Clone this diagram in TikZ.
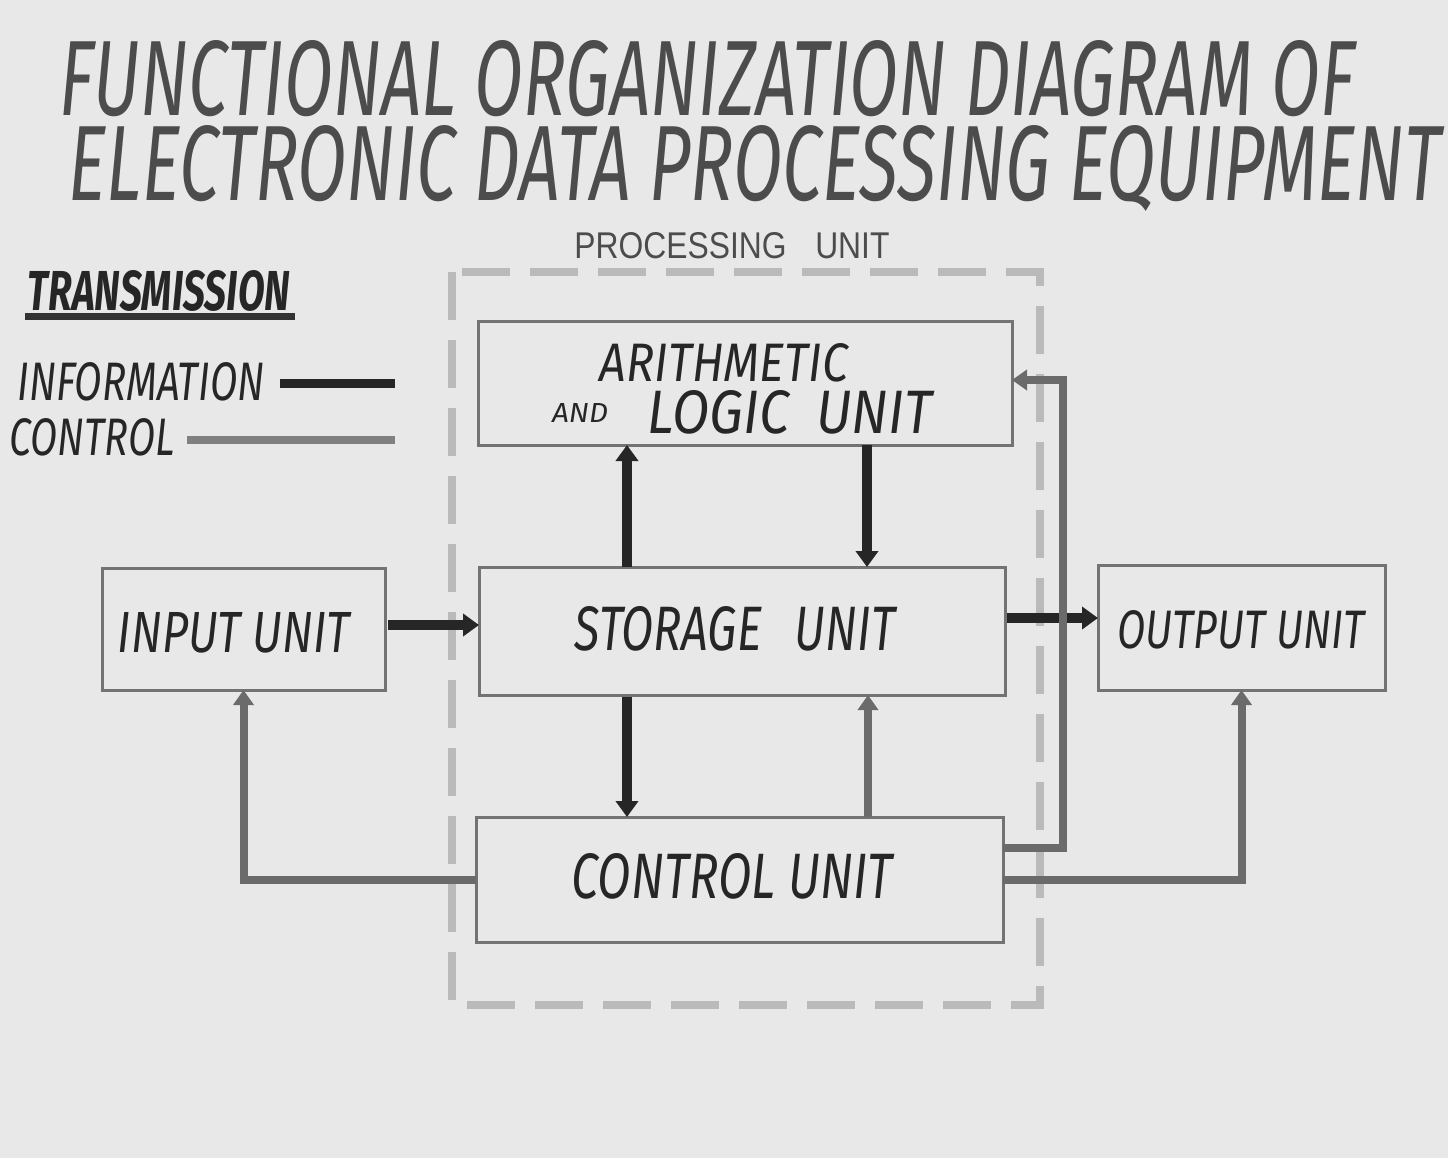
\documentclass[tikz,border=0pt]{standalone}
\usepackage{fontspec}
\setmainfont{Fira Sans}
\newfontfamily\stencil{Liberation Sans}
\usepackage{graphicx}
\usetikzlibrary{arrows.meta}
\newcommand{\fitbox}[3]{\resizebox{#1pt}{#2pt}{#3}}
\newcommand{\hand}[3]{\resizebox{#1pt}{#2pt}{\itshape #3}}
\newcommand{\handb}[3]{\resizebox{#1pt}{#2pt}{\itshape\bfseries #3}}
\begin{document}
\begin{tikzpicture}[x=0.5pt,y=-0.5pt,
  box/.style={draw=black!55, line width=1.5pt, fill=none, rectangle, inner sep=0pt, outer sep=0pt},
  lbl/.style={inner sep=0pt, outer sep=0pt, text=black!85, anchor=base},
  ttl/.style={inner sep=0pt, outer sep=0pt, text=black!70, anchor=base},
  info/.style={draw=black!85, line width=5pt, -{Triangle[length=8pt,width=11pt]}},
  ctrl/.style={draw=black!58, line width=4pt, -{Triangle[length=7.5pt,width=10pt]}},
  dashbox/.style={draw=black!27, line width=4pt, dash pattern=on 24pt off 10pt},
  ]
  \fill[black!9] (0,0) rectangle (1448,1158);
  \useasboundingbox (0,0) rectangle (1448,1158);

  % title
  \node[ttl] (title1) at (707,115) {\hand{647.5}{37.5}{FUNCTIONAL ORGANIZATION DIAGRAM OF}};
  \node[ttl] (title2) at (755,200) {\hand{686}{37.5}{ELECTRONIC DATA PROCESSING EQUIPMENT}};

  % processing unit frame
  \draw[dashbox] (452,272) rectangle (1040,1005);
  \node[inner sep=0pt, text=black!70, anchor=base] (pulabel) at (732,258) {\fitbox{157.5}{13}{\stencil PROCESSING\hspace{0.9em}UNIT}};

  % legend
  \node[lbl] (ltrans) at (159,310) {\handb{131}{20}{TRANSMISSION}};
  \coordinate (ul1) at (25,316);
  \coordinate (ul2) at (295,316);
  \draw[draw=black!80, line width=3.5pt] (ul1) -- (ul2);
  \node[lbl] (linfo) at (141,400) {\hand{123.5}{19}{INFORMATION}};
  \coordinate (li1) at (280,383);
  \coordinate (li2) at (395,383);
  \draw[draw=black!85, line width=4.5pt] (li1) -- (li2);
  \node[lbl] (lctrl) at (92,455) {\hand{82.5}{18.5}{CONTROL}};
  \coordinate (lc1) at (187,440);
  \coordinate (lc2) at (395,440);
  \draw[draw=black!50, line width=4pt] (lc1) -- (lc2);

  % boxes
  \node[box, minimum width=267pt, minimum height=62pt] (alu) at (745,383) {};
  \node[box, minimum width=141.5pt, minimum height=61pt] (input) at (243.5,629) {};
  \node[box, minimum width=263pt, minimum height=64pt] (storage) at (742,631) {};
  \node[box, minimum width=143.5pt, minimum height=62.5pt] (output) at (1241.5,627.5) {};
  \node[box, minimum width=263.5pt, minimum height=62.5pt] (control) at (739.5,879.5) {};

  % box texts
  \node[lbl] (alut1) at (724,381) {\hand{124}{19}{ARITHMETIC}};
  \node[lbl] (alut2) at (580,422) {\hand{28}{9.5}{AND}};
  \node[lbl] (alut3) at (790,433) {\hand{142}{21.5}{LOGIC\hspace{0.5em}UNIT}};
  \node[lbl] (inputt) at (234,652) {\hand{116}{20}{INPUT UNIT}};
  \node[lbl] (storaget) at (735,650) {\hand{160}{22}{STORAGE\hspace{0.7em}UNIT}};
  \node[lbl] (outputt) at (1241,648) {\hand{123.5}{19}{OUTPUT UNIT}};
  \node[lbl] (controlt) at (732,898) {\hand{160.5}{22.5}{CONTROL UNIT}};

  % information flow
  \draw[info, shorten <=1.5pt] (input.east |- 0,625) -- (storage.west |- 0,625);
  \draw[info, shorten <=1pt] (storage.east |- 0,618) -- (output.west |- 0,618);
  \draw[info] (storage.north -| 627,0) -- (alu.south -| 627,0);
  \draw[info] (alu.south -| 867,0) -- (storage.north -| 867,0);
  \draw[info, shorten <=1pt] (storage.south -| 627,0) -- (control.north -| 627,0);

  % control flow
  \draw[ctrl] (control.west) -| (input.south);
  \draw[ctrl] (control.north -| 868,0) -- (storage.south -| 868,0);
  \draw[ctrl] (control.east |- 0,848) -| (1063,600) |- (alu.east |- 0,380);
  \draw[ctrl] (control.east) -| (output.south);
\end{tikzpicture}
\end{document}
